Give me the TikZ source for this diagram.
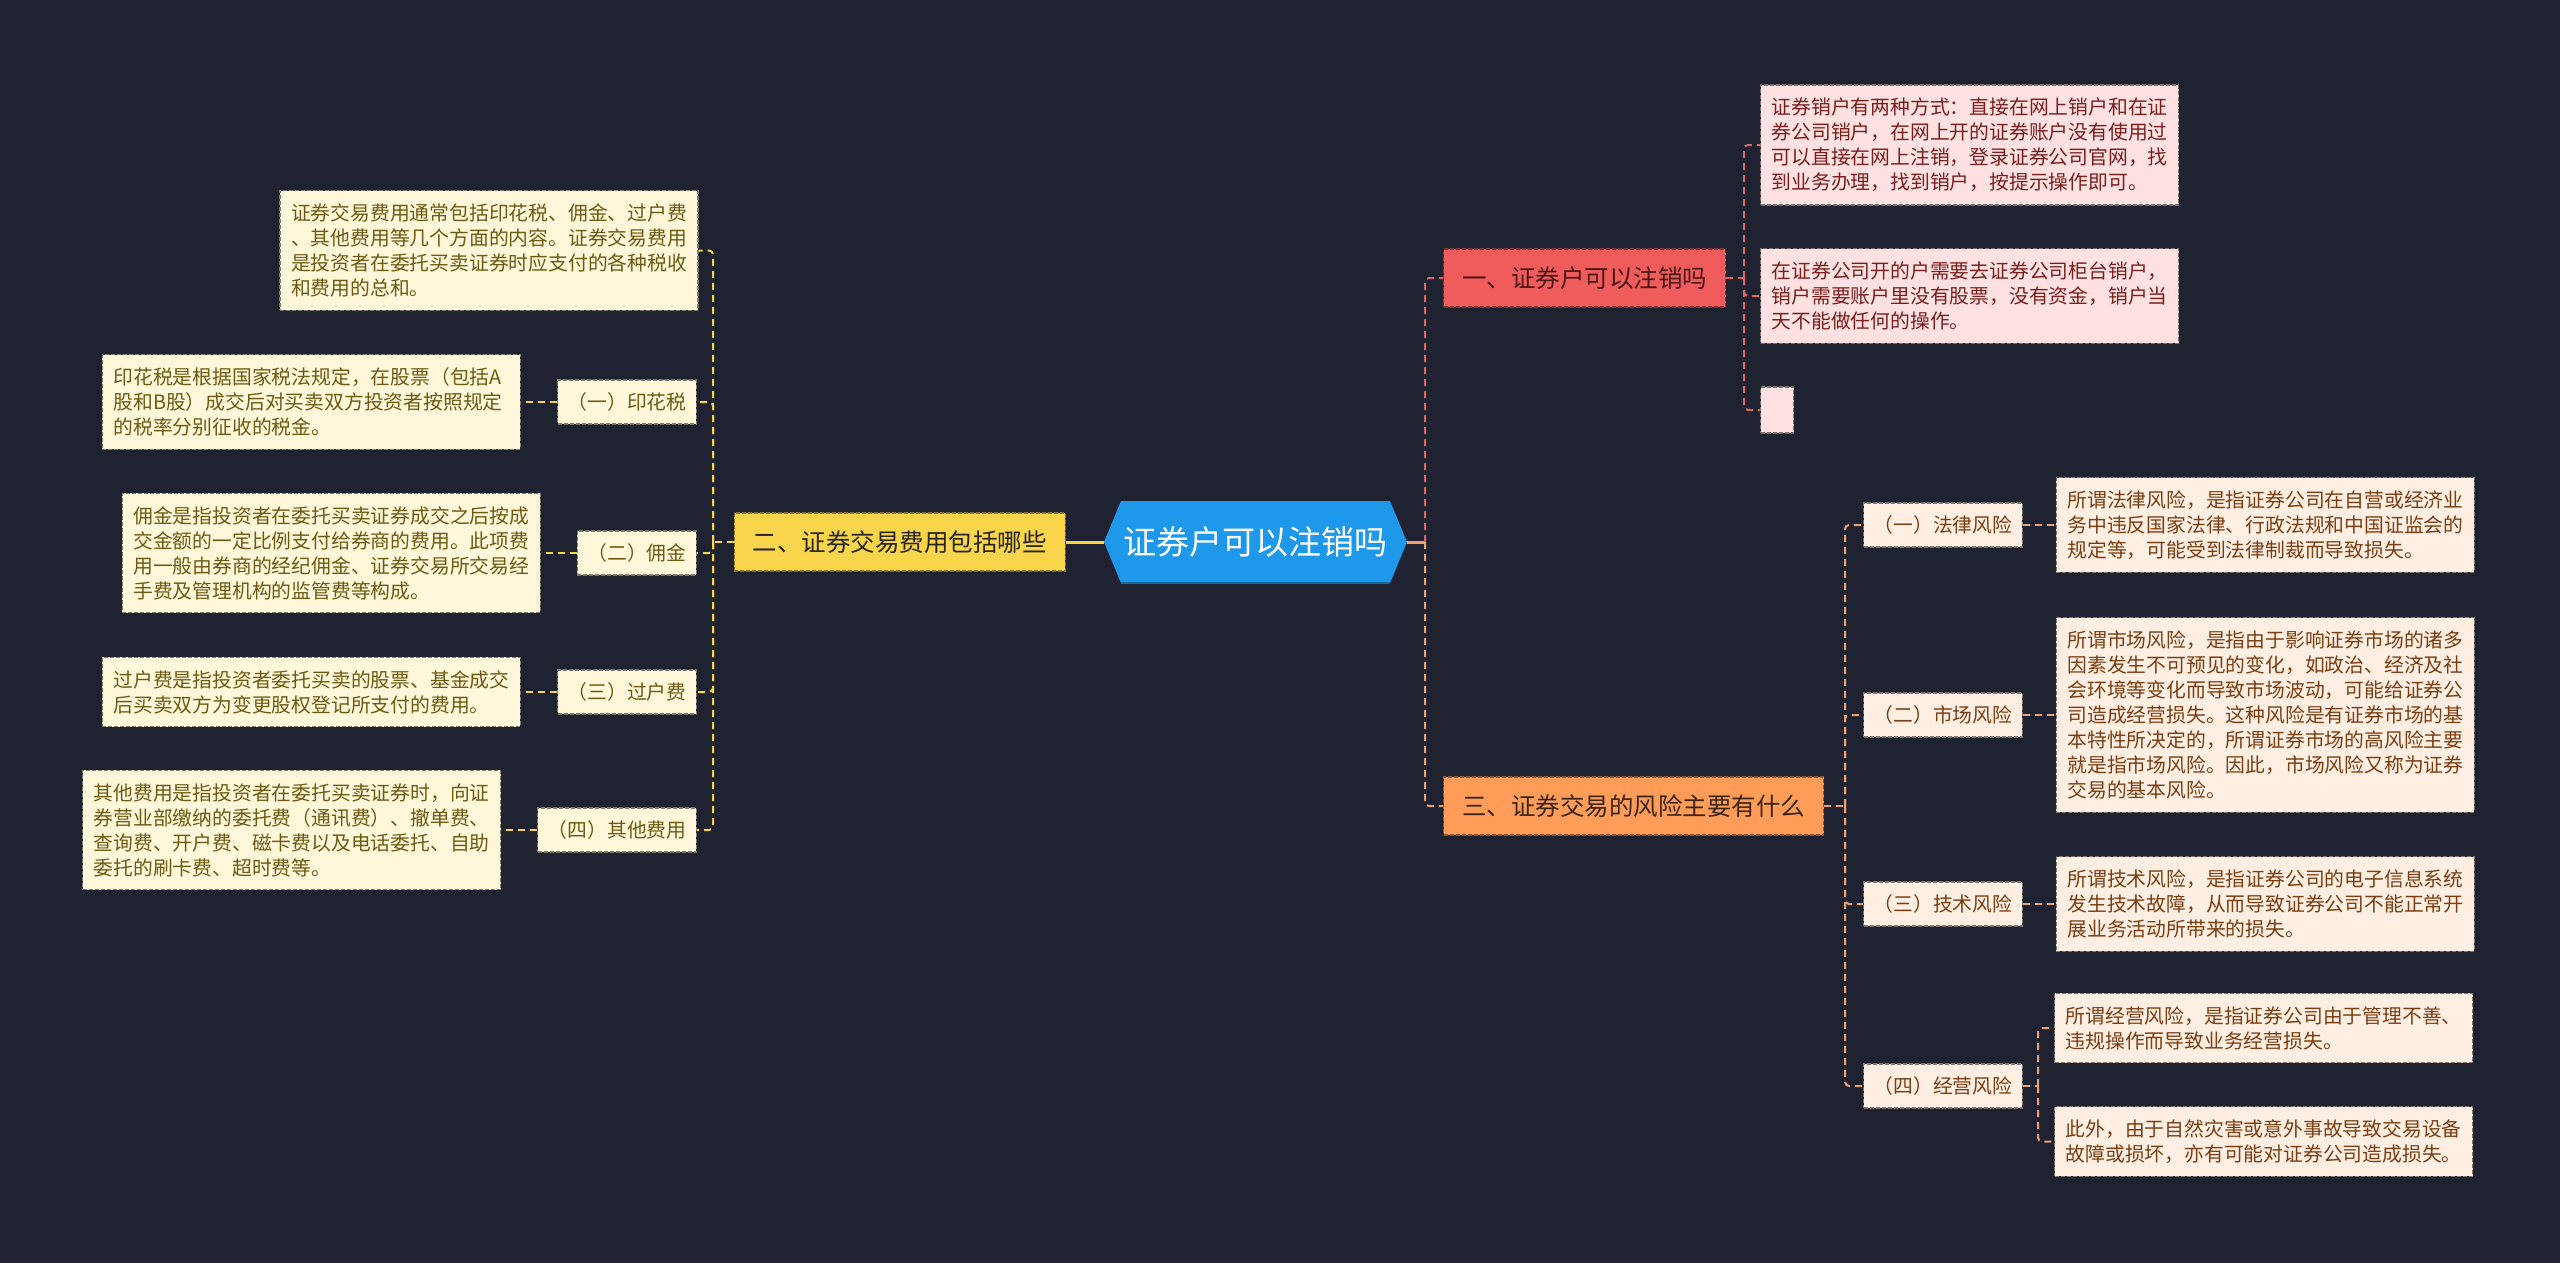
\documentclass[tikz,border=0pt]{standalone}
\usepackage{fontspec}
\setmainfont{Noto Sans CJK SC}
\definecolor{bg}{HTML}{1F2230}
\definecolor{ylw}{HTML}{F8D54B}
\definecolor{ylwfill}{HTML}{FEF7D9}
\definecolor{ylwtext}{HTML}{6E5A12}
\definecolor{ymaintext}{HTML}{26241C}
\definecolor{redm}{HTML}{F05B5B}
\definecolor{rmaintext}{HTML}{4A1515}
\definecolor{redfill}{HTML}{FFE1E1}
\definecolor{redtext}{HTML}{7A1E1E}
\definecolor{redline}{HTML}{E06464}
\definecolor{orgm}{HTML}{FF9C57}
\definecolor{omaintext}{HTML}{3A2414}
\definecolor{orgfill}{HTML}{FFEEE2}
\definecolor{orgtext}{HTML}{7A3E12}
\definecolor{orgline}{HTML}{F0A070}
\definecolor{rootblue}{HTML}{1E98EA}
\begin{document}
\begin{tikzpicture}[x=1pt,y=-1pt,
  boxbase/.style={line width=1.2pt, dash pattern=on 4pt off 2pt},
  txtbox/.style={boxbase, font=\fontsize{19.8}{25}\selectfont, text width=396pt, align=left, inner xsep=11pt, inner ysep=13pt},
  labbox/.style={boxbase, font=\fontsize{19.8}{25}\selectfont, inner xsep=10pt, inner ysep=0pt, minimum height=44pt},
  mainbox/.style={boxbase, font=\fontsize{24.5}{30}\selectfont, inner xsep=18.5pt, inner ysep=0pt, minimum height=58pt},
  ytxt/.style={txtbox, fill=ylwfill, draw=ylwfill!50!black, text=ylwtext},
  ylab/.style={labbox, fill=ylwfill, draw=ylwfill!50!black, text=ylwtext},
  rtxt/.style={txtbox, fill=redfill, draw=redfill!50!black, text=redtext},
  otxt/.style={txtbox, fill=orgfill, draw=orgfill!50!black, text=orgtext},
  olab/.style={labbox, fill=orgfill, draw=orgfill!50!black, text=orgtext},
  ymain/.style={mainbox, fill=ylw, draw=ylw!55!black, text=ymaintext},
  rmain/.style={mainbox, fill=redm, draw=redm!55!black, text=rmaintext},
  omain/.style={mainbox, fill=orgm, draw=orgm!55!black, text=omaintext},
  linkbase/.style={line width=2pt, dash pattern=on 7pt off 5pt, rounded corners=4pt},
  ylink/.style={linkbase, draw=ylw},
  rlink/.style={linkbase, draw=redline},
  olink/.style={linkbase, draw=orgline},
  ysolid/.style={line width=3pt, draw=ylw},
  osolid/.style={line width=3pt, draw=orgline}
]
\useasboundingbox (0,0) rectangle (2560,1263);
\fill[bg] (0,0) rectangle (2560,1263);

% root
\path[fill=rootblue] (1104,542) -- (1121,501) -- (1390,501) -- (1407,542) -- (1390,583) -- (1121,583) -- cycle;
\draw[rootblue!70!black, line width=2pt] (1121,583) -- (1390,583);
\node[font=\fontsize{33}{40}\selectfont, text=white] (root) at (1255.5,542) {证券户可以注销吗};
\coordinate (rootL) at (1104,542);
\coordinate (rootR) at (1407,542);

% main branches
\node[ymain, anchor=east] (n2) at (1066,542) {二、证券交易费用包括哪些};
\node[rmain, anchor=west] (n1) at (1443,278) {一、证券户可以注销吗};
\node[omain, anchor=west] (n3) at (1443,806) {三、证券交易的风险主要有什么};

% left side
\node[ytxt] (intro) at (489,250.5) {证券交易费用通常包括印花税、佣金、过户费\\、其他费用等几个方面的内容。证券交易费用\\是投资者在委托买卖证券时应支付的各种税收\\和费用的总和。};
\node[ylab, anchor=east] (l1) at (697,402) {（一）印花税};
\node[ytxt, anchor=east] (t1) at ([xshift=-36pt]l1.west) {印花税是根据国家税法规定，在股票（包括A\\股和B股）成交后对买卖双方投资者按照规定\\的税率分别征收的税金。};
\node[ylab, anchor=east] (l2) at (697,553) {（二）佣金};
\node[ytxt, anchor=east] (t2) at ([xshift=-36pt]l2.west) {佣金是指投资者在委托买卖证券成交之后按成\\交金额的一定比例支付给券商的费用。此项费\\用一般由券商的经纪佣金、证券交易所交易经\\手费及管理机构的监管费等构成。};
\node[ylab, anchor=east] (l3) at (697,692) {（三）过户费};
\node[ytxt, anchor=east] (t3) at ([xshift=-36pt]l3.west) {过户费是指投资者委托买卖的股票、基金成交\\后买卖双方为变更股权登记所支付的费用。};
\node[ylab, anchor=east] (l4) at (697,830) {（四）其他费用};
\node[ytxt, anchor=east] (t4) at ([xshift=-36pt]l4.west) {其他费用是指投资者在委托买卖证券时，向证\\券营业部缴纳的委托费（通讯费）、撤单费、\\查询费、开户费、磁卡费以及电话委托、自助\\委托的刷卡费、超时费等。};

\coordinate (cL) at (713,542);
\draw[ysolid] (rootL) -- (n2.east);
\draw[ylink] (n2.west) -- (cL);
\draw[ylink] (cL) |- (intro.east);
\draw[ylink] (cL) |- (l1.east);
\draw[ylink] (cL) |- (l2.east);
\draw[ylink] (cL) |- (l3.east);
\draw[ylink] (cL) |- (l4.east);
\draw[ylink] (l1.west) -- (t1.east);
\draw[ylink] (l2.west) -- (t2.east);
\draw[ylink] (l3.west) -- (t3.east);
\draw[ylink] (l4.west) -- (t4.east);

% right: center connectors
\coordinate (cR) at (1425,542);
\draw[osolid] (rootR) -- (cR);
\draw[rlink] (cR) |- (n1.west);
\draw[olink] (cR) |- (n3.west);

% red children
\node[rtxt, anchor=west] (r1) at (1760,145) {证券销户有两种方式：直接在网上销户和在证\\券公司销户，在网上开的证券账户没有使用过\\可以直接在网上注销，登录证券公司官网，找\\到业务办理，找到销户，按提示操作即可。};
\node[rtxt, anchor=west] (r2) at (1760,296) {在证券公司开的户需要去证券公司柜台销户，\\销户需要账户里没有股票，没有资金，销户当\\天不能做任何的操作。};
\node[boxbase, fill=redfill, draw=redfill!50!black, minimum width=33pt, minimum height=46pt, inner sep=0pt, anchor=west] (r3) at (1760,410) {};
\coordinate (cA) at (1744,278);
\draw[rlink] (n1.east) -- (cA);
\draw[rlink] (cA) |- (r1.west);
\draw[rlink] (cA) |- (r2.west);
\draw[rlink] (cA) |- (r3.west);

% orange children
\node[olab, anchor=west] (o1) at (1863,525) {（一）法律风险};
\node[olab, anchor=west] (o2) at (1863,715) {（二）市场风险};
\node[olab, anchor=west] (o3) at (1863,904) {（三）技术风险};
\node[olab, anchor=west] (o4) at (1863,1086) {（四）经营风险};
\node[otxt, anchor=west] (p1) at ([xshift=33pt]o1.east) {所谓法律风险，是指证券公司在自营或经济业\\务中违反国家法律、行政法规和中国证监会的\\规定等，可能受到法律制裁而导致损失。};
\node[otxt, anchor=west] (p2) at ([xshift=33pt]o2.east) {所谓市场风险，是指由于影响证券市场的诸多\\因素发生不可预见的变化，如政治、经济及社\\会环境等变化而导致市场波动，可能给证券公\\司造成经营损失。这种风险是有证券市场的基\\本特性所决定的，所谓证券市场的高风险主要\\就是指市场风险。因此，市场风险又称为证券\\交易的基本风险。};
\node[otxt, anchor=west] (p3) at ([xshift=33pt]o3.east) {所谓技术风险，是指证券公司的电子信息系统\\发生技术故障，从而导致证券公司不能正常开\\展业务活动所带来的损失。};
\node[otxt, anchor=west] (p4) at (2054,1028) {所谓经营风险，是指证券公司由于管理不善、\\违规操作而导致业务经营损失。};
\node[otxt, anchor=west] (p5) at (2054,1141.5) {此外，由于自然灾害或意外事故导致交易设备\\故障或损坏，亦有可能对证券公司造成损失。};

\coordinate (cB) at (1845,806);
\draw[olink] (n3.east) -- (cB);
\draw[olink] (cB) |- (o1.west);
\draw[olink] (cB) |- (o2.west);
\draw[olink] (cB) |- (o3.west);
\draw[olink] (cB) |- (o4.west);
\draw[olink] (o1.east) -- (p1.west);
\draw[olink] (o2.east) -- (p2.west);
\draw[olink] (o3.east) -- (p3.west);
\coordinate (cC) at (2038,1086);
\draw[olink] (o4.east) -- (cC);
\draw[olink] (cC) |- (p4.west);
\draw[olink] (cC) |- (p5.west);
\end{tikzpicture}
\end{document}
